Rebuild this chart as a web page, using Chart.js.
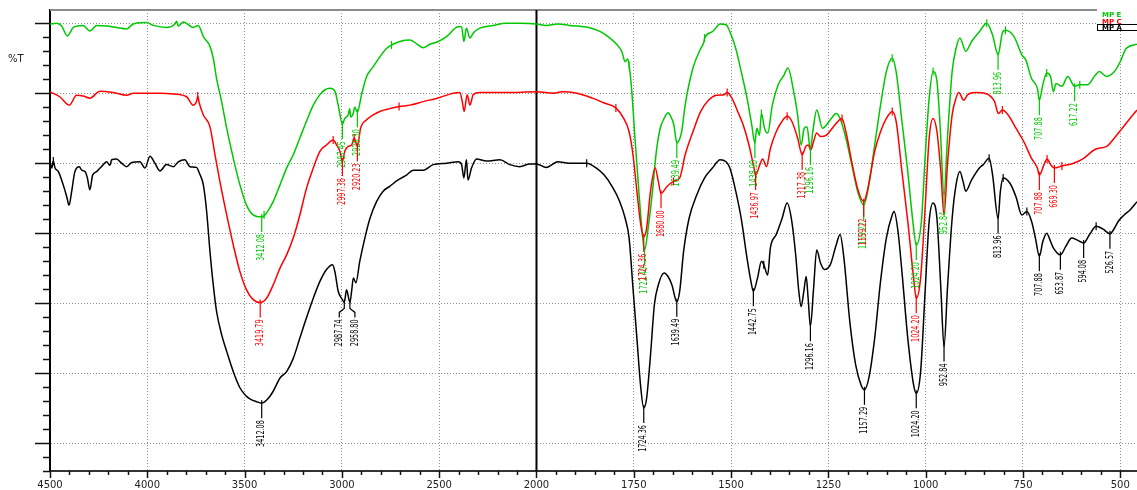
<!DOCTYPE html>
<html>
<head>
<meta charset="utf-8">
<script src="https://cdn.jsdelivr.net/npm/chart.js@4.4.1/dist/chart.umd.min.js"></script>
<style>
  html, body { margin: 0; padding: 0; background: #ffffff; }
  #wrap { position: relative; width: 1137px; height: 490px; }
</style>
</head>
<body>
<div id="wrap"><canvas id="ftir"></canvas></div>
<script>
// wavenumber (cm-1) / %T pairs, high to low wavenumber
const mpE = [
  [4500, 59.9], [4466, 60], [4440, 59.6], [4411, 58.2], [4380, 59.4], [4330, 59.7], [4295, 58.9],
  [4260, 59.7], [4209, 59.6], [4158, 59.4], [4106, 59.2], [4072, 59.9], [4003, 60.1], [3969, 59.7],
  [3901, 59.4], [3858, 59.9], [3849, 60.3], [3841, 59.6], [3815, 60.2], [3764, 59.4], [3738, 59.7],
  [3712, 58.1], [3678, 56.7], [3661, 55], [3644, 52.1], [3618, 48.8], [3592, 45], [3558, 40.7],
  [3524, 36.9], [3490, 34], [3456, 32.6], [3412.08, 32.3], [3387, 32.9], [3353, 34.5], [3318, 36.9],
  [3284, 39.3], [3250, 41.2], [3216, 43.6], [3182, 46], [3147, 48.3], [3113, 49.8], [3087, 50.5],
  [3062, 50.7], [3036, 50.3], [3019, 48.3], [2997.45, 45.6], [2985, 46.4], [2968, 46.9], [2960, 47.8],
  [2955, 46.6], [2942, 47.1], [2934, 48], [2920.30, 47.3], [2899, 49.8], [2873, 52.4], [2839, 53.8],
  [2805, 55.2], [2771, 56.4], [2745, 56.9], [2702, 57.4], [2651, 57.6], [2617, 57.1], [2582, 56.5],
  [2548, 57], [2505, 57.4], [2462, 58.1], [2402, 59.5], [2385, 59.5], [2373, 57.4], [2360, 59.3],
  [2342, 57.9], [2325, 58.6], [2291, 59.3], [2223, 59.7], [2154, 60], [2086, 60], [2000, 59.9],
  [1975, 59.7], [1945, 59.9], [1916, 59.7], [1866, 59.4], [1836, 58.8], [1816, 58.1], [1796, 57.1],
  [1781, 56], [1772, 54.5], [1766, 54.9], [1762, 54], [1755, 50.2], [1747, 43.6], [1737, 36],
  [1727, 29.3], [1722.40, 27.6], [1712, 31.2], [1702, 36], [1692, 41.7], [1682, 45], [1672, 46.4],
  [1662, 47.2], [1657, 46.9], [1647, 45.5], [1639.49, 42.9], [1627, 44.5], [1618, 48.3], [1598, 53.6],
  [1578, 56.4], [1570, 57.3], [1568, 57.9], [1548, 58.8], [1528, 59.9], [1513, 59.8], [1503, 58.8],
  [1488, 56.4], [1474, 53.1], [1459, 49.3], [1447, 45.5], [1438.90, 42.9], [1434, 45], [1427, 44],
  [1422, 47.1], [1414, 45], [1406, 44.3], [1394, 48.3], [1379, 51.2], [1364, 52.6], [1354, 53.6],
  [1339, 50.2], [1329, 46.9], [1320, 42.6], [1312, 45], [1305, 45.2], [1296.16, 41.9], [1290, 44.5],
  [1280, 47.6], [1265, 45], [1245, 46.2], [1230, 47.1], [1220, 46.4], [1205, 43.6], [1190, 39.8],
  [1175, 36], [1159.22, 34], [1146, 36.9], [1131, 42.6], [1116, 48.3], [1101, 53.1], [1086, 55],
  [1076, 53.1], [1061, 46], [1046, 38.8], [1033, 31.7], [1024.20, 28.3], [1011, 31.7], [1001, 41.2],
  [991, 49.3], [981, 53.1], [971, 51.7], [963, 45.5], [952.84, 35.5], [944, 43.6], [932, 53.1],
  [922, 56.4], [912, 57.9], [897, 56], [882, 57.4], [862, 58.8], [843, 60], [828, 58.3],
  [813.96, 55.5], [803, 58.6], [795, 59], [773, 58.1], [753, 55.5], [743, 54.8], [728, 52.1],
  [713, 50.7], [707.88, 49], [699, 51.2], [689, 52.9], [679, 52.4], [672, 50.2], [665, 51.4],
  [650, 51], [635, 52.4], [617.22, 51], [604, 51.2], [584, 51.2], [564, 52.6], [554, 53.1],
  [535, 52.4], [515, 53.1], [500, 54.5], [485, 56.4], [457, 57]
];

const mpC = [
  [4500, 50.2], [4450, 49.5], [4401, 48.3], [4363, 49.7], [4330, 49.6], [4295, 49.3], [4243, 50.3],
  [4175, 50.1], [4106, 49.7], [4072, 50], [4003, 50], [3935, 50], [3866, 49.9], [3798, 49.5],
  [3764, 48.3], [3745, 49], [3741, 49.6], [3733, 48.6], [3712, 46.9], [3678, 45.2], [3652, 41.2],
  [3627, 37.4], [3592, 32.6], [3558, 28.3], [3524, 24.5], [3490, 21.9], [3456, 20.5], [3419.79, 20.1],
  [3387, 20.7], [3353, 22.6], [3318, 25], [3284, 26.9], [3250, 29.3], [3216, 32.6], [3182, 36.4],
  [3147, 39.3], [3113, 41.7], [3079, 42.6], [3045, 43.3], [3027, 42.6], [3010, 41.7], [2997.38, 40.3],
  [2985, 41.7], [2968, 42.4], [2950, 42.6], [2937, 43.6], [2920.23, 42.4], [2904, 45], [2873, 46.2],
  [2839, 46.9], [2805, 47.4], [2753, 47.8], [2706, 48.1], [2651, 48.3], [2582, 48.8], [2497, 49.4],
  [2428, 50], [2394, 50.1], [2380, 48.6], [2372, 47.4], [2356, 49.8], [2342, 48.3], [2325, 49.8],
  [2291, 50.1], [2154, 50.1], [2000, 50.2],
  [1955, 50], [1935, 50.2], [1896, 50], [1856, 49.3], [1826, 48.6], [1796, 47.9], [1776, 46.4],
  [1762, 44.5], [1752, 41.2], [1742, 36], [1732, 31.2], [1724.36, 29.5], [1717, 30.7], [1707, 36],
  [1695, 39.3], [1687, 37.4], [1680.00, 35.7], [1664, 36.7], [1648, 37.4], [1632, 37.9], [1618, 41.2],
  [1598, 44.5], [1578, 47.4], [1558, 49], [1538, 49.7], [1518, 49.8], [1510, 50.1], [1498, 49.3],
  [1483, 47.4], [1469, 45.5], [1454, 42.6], [1441, 39.3], [1436.97, 38.3], [1426, 39.8], [1419, 40.6],
  [1409, 39.5], [1399, 42.1], [1384, 44.5], [1369, 46], [1356, 46.7], [1344, 46], [1329, 43.6],
  [1317.38, 41.2], [1308, 42.4], [1302, 42.6], [1295, 41.9], [1288, 43.1], [1280, 44.3], [1270, 43.8],
  [1255, 44], [1240, 45], [1225, 46], [1215, 46.4], [1205, 44.5], [1190, 40.2], [1175, 36.4],
  [1159.22, 34.5], [1150, 36], [1131, 41.7], [1116, 44.5], [1101, 46.4], [1086, 47.4], [1076, 46],
  [1061, 38.8], [1046, 31.7], [1031, 23.6], [1024.20, 20.7], [1013, 23.6], [1001, 34], [991, 43.6],
  [981, 46.4], [971, 44.5], [961, 38.8], [952.84, 32.6], [944, 39.8], [932, 46.9], [922, 49.3],
  [915, 50.1], [902, 49], [892, 49.8], [872, 50.1], [843, 49.9], [823, 48.8], [813, 47.1],
  [803, 47.6], [788, 46.9], [768, 45], [748, 43.1], [728, 40.7], [713, 39.3], [707.88, 38.3],
  [696, 39.8], [688, 40.6], [679, 39.8], [669.30, 39.3], [650, 39.6], [620, 40], [594, 40.7],
  [564, 42], [535, 42.4], [515, 43.6], [495, 45], [475, 46.4], [457, 47.6]
];

const mpA = [
  [4500, 40.2], [4491, 39.3], [4483, 40.3], [4474, 39.3], [4457, 38.8], [4432, 36.9], [4414, 35.2],
  [4402, 34], [4389, 35.9], [4372, 38.8], [4349, 39.5], [4337, 39], [4320, 38.8], [4308, 37.9],
  [4295, 36.2], [4281, 38.3], [4260, 38.8], [4243, 39.3], [4226, 39.8], [4209, 40.2], [4192, 39.7],
  [4183, 40.5], [4158, 40.6], [4132, 40], [4106, 39.5], [4080, 40.1], [4038, 40.2], [4012, 39.3],
  [3986, 41], [3961, 40], [3935, 38.9], [3901, 39.8], [3866, 39.5], [3841, 40.2], [3807, 40.5],
  [3781, 39.5], [3747, 39.4], [3733, 38.6], [3712, 36.9], [3695, 33.1], [3678, 27.4], [3661, 22.6],
  [3644, 18.8], [3618, 15.5], [3592, 13.1], [3558, 10.2], [3524, 7.9], [3498, 6.9], [3473, 6.3],
  [3438, 5.9], [3412.08, 5.7], [3378, 6.4], [3353, 7.4], [3318, 9.3], [3284, 10.2], [3250, 12.1],
  [3216, 15], [3182, 17.9], [3147, 20.7], [3113, 23.1], [3079, 24.8], [3048, 25.5], [3036, 24.5],
  [3019, 21.7], [3000, 20.6], [2987.74, 20.1], [2976, 21.9], [2958.80, 20.1], [2950, 21.7],
  [2941, 23.6], [2928, 22.9], [2908, 26], [2882, 29.3], [2856, 32.1], [2822, 34.5], [2788, 36],
  [2754, 36.7], [2711, 37.6], [2668, 38.3], [2634, 39], [2582, 39], [2531, 39.8], [2462, 40],
  [2402, 40.2], [2385, 39.8], [2373, 37.9], [2360, 40.5], [2352, 37.6], [2334, 39.3], [2308, 40.6],
  [2257, 40.3], [2188, 40.5], [2137, 39.8], [2086, 39.5], [2034, 39.9], [2000, 39.9],
  [1975, 39.4], [1945, 40.2], [1916, 40], [1871, 40], [1846, 39.3], [1826, 38.3], [1806, 36.7],
  [1786, 34.5], [1772, 32.1], [1762, 29.3], [1752, 22.1], [1742, 15], [1732, 7.9], [1724.36, 5],
  [1717, 6.4], [1707, 12.6], [1697, 19.8], [1687, 22.6], [1672, 24.3], [1662, 23.8], [1652, 22.6],
  [1639.49, 20.2], [1632, 21.7], [1622, 27.4], [1608, 32.1], [1588, 35.5], [1568, 37.9], [1548, 39.3],
  [1528, 40.5], [1513, 40.2], [1503, 39.3], [1488, 36], [1474, 32.1], [1459, 26.4], [1449, 23.1],
  [1442.75, 21.7], [1432, 23.6], [1422, 26], [1416, 25.5], [1406, 24], [1399, 27.9], [1384, 29.8],
  [1369, 32.1], [1356, 34.3], [1344, 31.7], [1334, 26.9], [1326, 21.7], [1320, 19.5], [1313, 21.7],
  [1307, 23.8], [1302, 20.7], [1296.16, 16.7], [1288, 22.1], [1280, 27.6], [1270, 25.7], [1260, 24.8],
  [1245, 25.5], [1230, 28.3], [1220, 29.8], [1210, 26.4], [1195, 17.4], [1180, 11.2], [1166, 8.3],
  [1157.29, 7.6], [1146, 9.3], [1131, 15], [1116, 23.1], [1101, 29.3], [1086, 32.6], [1081, 33.1],
  [1071, 30.2], [1061, 24.5], [1046, 15], [1031, 8.3], [1024.20, 7.1], [1013, 10.2], [1001, 22.1],
  [991, 31.7], [981, 34.3], [971, 32.1], [961, 22.1], [952.84, 13.8], [944, 22.1], [932, 32.1],
  [922, 36.9], [912, 38.8], [904, 37.4], [897, 36], [882, 37.6], [862, 39.3], [852, 39.8],
  [837, 40.7], [828, 38.3], [813.96, 32.1], [808, 36], [801, 37.9], [783, 37.1], [768, 35.2],
  [753, 32.6], [740, 33.1], [728, 31.7], [718, 29.3], [707.88, 26.7], [699, 28.8], [689, 30],
  [679, 28.8], [672, 27.9], [653.87, 26.9], [640, 28.1], [625, 29.3], [610, 29], [594.08, 28.6],
  [579, 29.8], [562, 31], [545, 30.6], [526.57, 29.9], [515, 30.7], [505, 31.7], [490, 32.6],
  [475, 33.3], [457, 34.5]
];

// picked peaks (drawn as vertical labels under each band)
const mpEPeaks = ["3412.08", "2997.45", "2920.30", "1722.40", "1639.49", "1438.90", "1296.16",
  "1159.22", "1024.20", "952.84", "813.96", "707.88", "617.22"];
const mpCPeaks = ["3419.79", "2997.38", "2920.23", "1724.36", "1680.00", "1436.97", "1317.38",
  "1159.22", "1024.20", "707.88", "669.30"];
const mpAPeaks = ["3412.08", "2987.74", "2958.80", "1724.36", "1639.49", "1442.75", "1296.16",
  "1157.29", "1024.20", "952.84", "813.96", "707.88", "653.87", "594.08", "526.57"];

// small tick marks sitting on the traces
const mpEMarks = [3400, 2745, 1762, 1568, 1422, 1086, 981, 843, 795, 689, 604];
const mpCMarks = [3741, 3045, 2937, 2706, 1796, 1648, 1510, 1356, 1215, 1086, 803, 688, 650];
const mpAMarks = [4483, 1871, 1416, 837, 801, 740, 562];

const seriesNames = ["MP E", "MP C", "MP A"];
const seriesColors = ["#00c800", "#ff0000", "#000000"];

const xTickLabels = [4500, 4000, 3500, 3000, 2500, 2000, 1750, 1500, 1250, 1000, 750, 500];
const yGridValues = [0, 10, 20, 30, 40, 50, 60];
const X_RIGHT = 457;

// the x axis is compressed 2:1 above 2000 cm-1
const BREAK = 2000;
const toAxis = (wn) => (wn > BREAK ? BREAK + (wn - BREAK) / 2 : wn);
const fromAxis = (u) => (u > BREAK ? BREAK + (u - BREAK) * 2 : u);

function valueAt(data, wn) {
  for (let i = 0; i < data.length - 1; i++) {
    const [w0, t0] = data[i];
    const [w1, t1] = data[i + 1];
    if (wn <= w0 && wn >= w1) {
      return w0 === w1 ? t0 : t0 + ((t1 - t0) * (w0 - wn)) / (w0 - w1);
    }
  }
  return null;
}

const series = [
  { data: mpE, peaks: mpEPeaks, marks: mpEMarks },
  { data: mpC, peaks: mpCPeaks, marks: mpCMarks },
  { data: mpA, peaks: mpAPeaks, marks: mpAMarks },
];

// crowded labels get their leader bent sideways (px)
const labelNudge = { "2987.74": -5, "2958.80": 5 };

const labelFont = '10px "Liberation Sans Narrow", "DejaVu Sans Condensed", sans-serif';

const framePlugin = {
  id: "frame",
  beforeDatasetsDraw(chart) {
    const { ctx, chartArea: a, scales: { x } } = chart;
    ctx.save();
    ctx.strokeStyle = "#8c8c8c";
    ctx.lineWidth = 2;
    ctx.beginPath();
    ctx.moveTo(a.left, a.top);
    ctx.lineTo(a.right, a.top);
    ctx.stroke();
    // solid divider where the scale changes
    const xb = x.getPixelForValue(BREAK);
    ctx.strokeStyle = "#000";
    ctx.beginPath();
    ctx.moveTo(xb, a.top);
    ctx.lineTo(xb, a.bottom);
    ctx.stroke();
    ctx.restore();
  },
  afterDraw(chart) {
    const { ctx, chartArea: a, scales: { x, y } } = chart;
    ctx.save();
    ctx.strokeStyle = "#111";
    ctx.lineWidth = 1.5;
    for (let v = -4; v <= 60; v += 2) {
      const py = Math.round(y.getPixelForValue(v)) + 0.5;
      const len = v % 10 === 0 ? 15 : 7;
      ctx.beginPath();
      ctx.moveTo(a.left - len, py);
      ctx.lineTo(a.left, py);
      ctx.stroke();
    }
    for (let u = 500; u <= toAxis(4500); u += 50) {
      const px = Math.round(x.getPixelForValue(u)) + 0.5;
      const len = xTickLabels.includes(fromAxis(u)) ? 7 : 4;
      ctx.beginPath();
      ctx.moveTo(px, a.bottom);
      ctx.lineTo(px, a.bottom + len);
      ctx.stroke();
    }
    ctx.fillStyle = "#222";
    ctx.font = '10px "DejaVu Sans", sans-serif';
    ctx.textBaseline = "alphabetic";
    ctx.fillText("%T", 8, 62);
    ctx.restore();
  },
};

const peakPlugin = {
  id: "peaks",
  afterDatasetsDraw(chart) {
    const { ctx, chartArea: a, scales: { x, y } } = chart;
    ctx.save();
    ctx.beginPath();
    ctx.rect(a.left, a.top, a.right - a.left, a.bottom - a.top);
    ctx.clip();
    series.forEach((s, i) => {
      const color = seriesColors[i];
      ctx.strokeStyle = color;
      ctx.fillStyle = color;
      ctx.lineWidth = 1.2;
      s.marks.forEach((wn) => {
        const px = x.getPixelForValue(toAxis(wn));
        const py = y.getPixelForValue(valueAt(s.data, wn));
        ctx.beginPath();
        ctx.moveTo(px, py - 4);
        ctx.lineTo(px, py + 4);
        ctx.stroke();
      });
      s.peaks.forEach((label) => {
        const wn = parseFloat(label);
        const px = x.getPixelForValue(toAxis(wn));
        const py = y.getPixelForValue(valueAt(s.data, wn));
        const dx = i === 2 && labelNudge[label] ? labelNudge[label] : 0;
        ctx.beginPath();
        ctx.moveTo(px, py - 3);
        if (dx) {
          ctx.lineTo(px, py + 6);
          ctx.lineTo(px + dx, py + 10);
        }
        ctx.lineTo(px + dx, py + 15);
        ctx.stroke();
        ctx.save();
        ctx.translate(px + dx, py + 17);
        ctx.rotate(-Math.PI / 2);
        ctx.scale(0.72, 1);
        ctx.font = labelFont;
        ctx.textAlign = "right";
        ctx.textBaseline = "middle";
        ctx.fillText(label, 0, 0);
        ctx.restore();
      });
    });
    ctx.restore();
  },
};

const legendPlugin = {
  id: "specLegend",
  afterDraw(chart) {
    const { ctx } = chart;
    ctx.save();
    ctx.fillStyle = "#fff";
    ctx.fillRect(1097, 7, 40, 24);
    ctx.font = 'bold 7px "DejaVu Sans", sans-serif';
    ctx.textBaseline = "alphabetic";
    seriesNames.forEach((name, i) => {
      ctx.fillStyle = seriesColors[i];
      ctx.fillText(name, 1102, 17 + i * 6.6);
    });
    ctx.strokeStyle = "#000";
    ctx.lineWidth = 1;
    ctx.strokeRect(1097.5, 24.5, 45, 6);
    ctx.restore();
  },
};

const datasetOrder = [1, 0, 2];

new Chart(document.getElementById("ftir"), {
  type: "line",
  data: {
    datasets: series.map((s, i) => ({
      label: seriesNames[i],
      data: s.data.map(([w, t]) => ({ x: toAxis(w), y: t })),
      borderColor: seriesColors[i],
      borderWidth: 1.5,
      pointRadius: 0,
      cubicInterpolationMode: "monotone",
      fill: false,
      order: datasetOrder[i],
    })),
  },
  options: {
    responsive: true,
    maintainAspectRatio: false,
    animation: false,
    events: [],
    layout: { padding: { top: 10, left: 0, right: 0, bottom: 0 } },
    plugins: { legend: { display: false }, tooltip: { enabled: false } },
    scales: {
      x: {
        type: "linear",
        reverse: true,
        min: toAxis(X_RIGHT),
        max: toAxis(4500),
        afterBuildTicks: (scale) => {
          scale.ticks = xTickLabels.map((w) => ({ value: toAxis(w) })).sort((p, q) => p.value - q.value);
        },
        afterFit: (scale) => {
          scale.height = 19;
        },
        grid: {
          color: (c) => (c.tick && c.tick.value === BREAK ? "rgba(0,0,0,0)" : "#8f8f8f"),
          lineWidth: 1,
          drawTicks: false,
        },
        border: { display: true, color: "#333", width: 2, dash: [1, 2] },
        ticks: {
          autoSkip: false,
          maxRotation: 0,
          padding: 8,
          color: "#222",
          font: { family: "DejaVu Sans", size: 10 },
          callback: (v) => String(fromAxis(v)),
        },
      },
      y: {
        type: "linear",
        min: -4,
        max: 61.9,
        afterBuildTicks: (scale) => {
          scale.ticks = yGridValues.map((v) => ({ value: v }));
        },
        afterFit: (scale) => {
          scale.width = 50;
        },
        grid: { color: "#8f8f8f", lineWidth: 1, drawTicks: false },
        border: { display: true, color: "#000", width: 2, dash: [1, 2] },
        ticks: { display: false },
      },
    },
  },
  plugins: [framePlugin, peakPlugin, legendPlugin],
});
</script>
</body>
</html>
